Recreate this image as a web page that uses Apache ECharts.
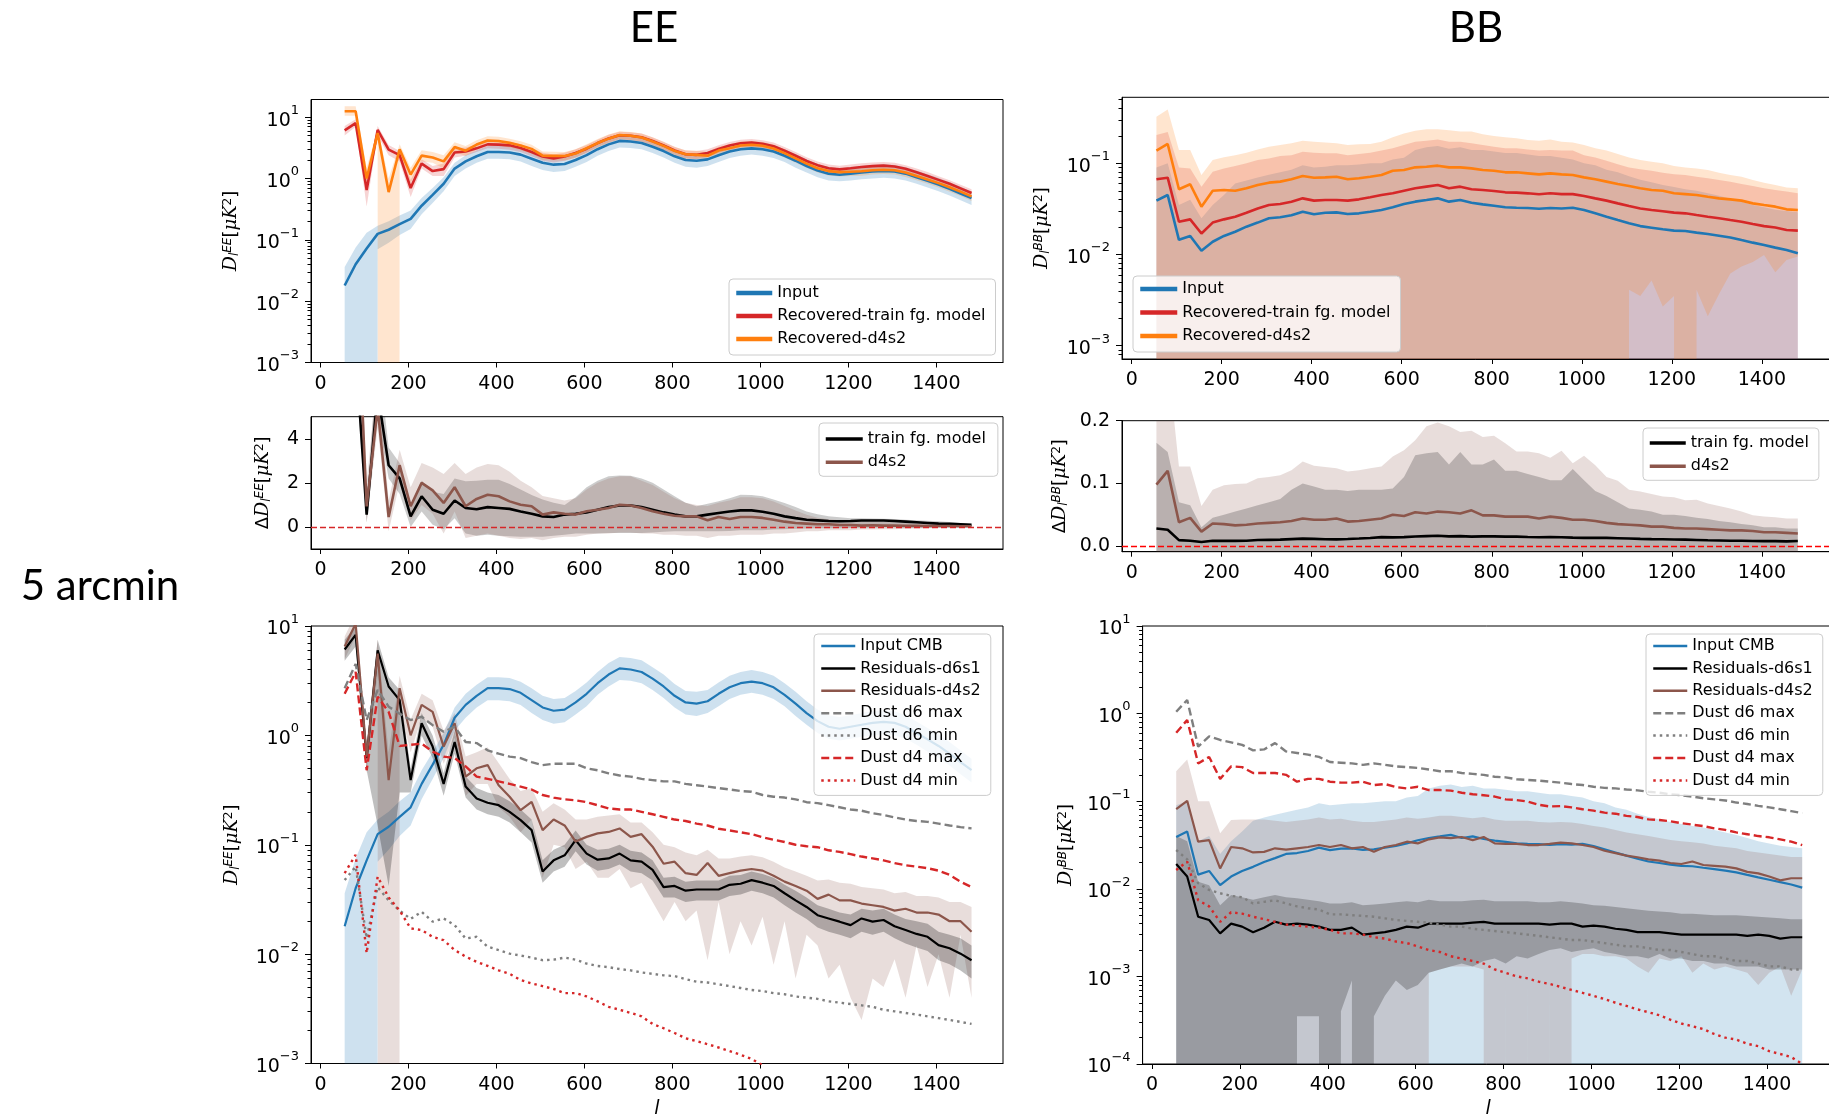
<!DOCTYPE html>
<html>
<head>
<meta charset="utf-8">
<title>EE / BB 5 arcmin</title>
<script src="https://cdn.jsdelivr.net/npm/echarts@6/dist/echarts.min.js"></script>
<style>
html, body { margin: 0; padding: 0; background: #fff; }
#chart { width: 1829px; height: 1120px; }
</style>
</head>
<body>
<div id="chart"></div>
<script>
/* multipole bins */
var ell = [55,80,105,130,155,180,205,230,255,280,305,330,355,380,405,430,455,480,505,530,555,580,605,630,655,680,705,730,755,780,805,830,855,880,905,930,955,980,1005,1030,1055,1080,1105,1130,1155,1180,1205,1230,1255,1280,1305,1330,1355,1380,1405,1430,1455,1480];
var xTicks = [0,200,400,600,800,1000,1200,1400];

/* EE spectra (top left, bottom left) */
var eeInput = [0.018,0.04,0.072,0.125,0.146,0.18,0.22,0.36,0.54,0.82, 1.45,1.9,2.3,2.7,2.7,2.65,2.45,2.1,1.8,1.68, 1.72,2.0,2.4,3.0,3.6,4.1,4.0,3.8,3.3,2.8, 2.3,2.0,1.95,2.05,2.4,2.75,3.0,3.1,3.0,2.75, 2.35,1.95,1.6,1.35,1.2,1.15,1.2,1.25,1.3,1.33, 1.3,1.2,1.05,0.92,0.8,0.68,0.57,0.48];
var eeInputLo = [null,null,null,0.07,0.09,0.12,0.15,0.26,0.4,0.62, 1.1,1.45,1.8,2.1,2.1,2.05,1.9,1.6,1.38,1.28, 1.32,1.55,1.85,2.35,2.8,3.2,3.15,3.0,2.6,2.2, 1.8,1.55,1.5,1.6,1.85,2.15,2.35,2.45,2.35,2.15, 1.85,1.5,1.25,1.05,0.93,0.9,0.93,0.97,1.0,1.03, 1.0,0.93,0.82,0.71,0.62,0.53,0.44,0.37];
var eeInputHi = [0.036,0.075,0.13,0.17,0.2,0.25,0.3,0.48,0.7,1.05, 1.8,2.4,2.9,3.4,3.4,3.35,3.1,2.7,2.3,2.15, 2.2,2.55,3.05,3.8,4.6,5.2,5.1,4.85,4.2,3.6, 2.95,2.55,2.5,2.6,3.05,3.5,3.8,3.95,3.8,3.5, 3.0,2.5,2.05,1.72,1.53,1.47,1.53,1.6,1.66,1.7, 1.66,1.53,1.34,1.17,1.02,0.87,0.73,0.61];
var eeTrain = [6.1,8.0,0.65,6.2,2.95,2.4,0.7,1.75,1.32,1.42, 2.65,2.76,3.1,3.6,3.56,3.47,3.15,2.7,2.28,2.13, 2.28,2.6,3.06,3.78,4.5,5.07,4.97,4.7,4.08,3.46, 2.86,2.48,2.43,2.61,3.03,3.45,3.75,3.85,3.69,3.35, 2.83,2.35,1.93,1.65,1.47,1.41,1.47,1.54,1.59,1.62, 1.57,1.44,1.26,1.1,0.95,0.82,0.69,0.58];
var eeTrainLo = [5.0,7.0,0.35,5.0,2.4,1.9,0.5,1.45,1.1,1.1, 2.2,2.35,2.7,3.1,3.05,2.95,2.7,2.3,1.95,1.82, 1.95,2.2,2.6,3.25,3.85,4.35,4.25,4.0,3.5,2.95, 2.45,2.12,2.08,2.23,2.6,2.95,3.2,3.3,3.15,2.87, 2.42,2.0,1.65,1.41,1.26,1.2,1.26,1.32,1.36,1.38, 1.34,1.23,1.08,0.94,0.81,0.7,0.59,0.5];
var eeTrainHi = [7.2,9.2,1.0,7.2,3.5,2.8,0.95,2.05,1.6,1.75, 3.1,3.2,3.55,4.1,4.05,3.95,3.6,3.1,2.62,2.45, 2.62,3.0,3.5,4.3,5.15,5.8,5.7,5.4,4.7,3.98, 3.3,2.85,2.8,3.0,3.48,3.95,4.3,4.4,4.22,3.85, 3.25,2.7,2.22,1.9,1.69,1.62,1.69,1.77,1.83,1.86, 1.8,1.65,1.45,1.27,1.09,0.94,0.79,0.67];
var eeD4s2 = [12.5,12.5,1.0,5.5,0.6,3.0,1.16,2.36,2.2,1.9, 3.25,2.84,3.57,4.16,4.09,3.81,3.46,3.04,2.36,2.34, 2.32,2.56,3.11,3.78,4.46,5.11,4.97,4.66,4.01,3.4, 2.81,2.48,2.43,2.35,2.85,3.11,3.45,3.55,3.41,3.08, 2.59,2.13,1.75,1.47,1.32,1.27,1.29,1.31,1.36,1.39, 1.36,1.25,1.1,0.96,0.84,0.72,0.61,0.51];
var eeD4s2Lo = [10.5,10.5,0.7,4.0,null,2.2,0.85,1.9,1.8,1.45, 2.65,2.35,2.95,3.5,3.45,3.2,2.9,2.55,2.0,1.98, 1.97,2.17,2.65,3.2,3.8,4.35,4.22,3.96,3.4,2.9, 2.39,2.1,2.07,2.0,2.42,2.65,2.93,3.02,2.9,2.62, 2.2,1.81,1.49,1.25,1.12,1.08,1.1,1.11,1.16,1.18, 1.16,1.06,0.94,0.82,0.71,0.61,0.52,0.43];
var eeD4s2Hi = [15,15,1.5,6.5,1.0,3.6,1.5,2.9,2.7,2.4, 3.9,3.4,4.2,4.9,4.8,4.45,4.05,3.55,2.75,2.72, 2.7,3.0,3.6,4.4,5.2,5.9,5.75,5.4,4.65,3.95, 3.26,2.88,2.82,2.72,3.3,3.6,4.0,4.1,3.95,3.57, 3.0,2.47,2.03,1.7,1.53,1.47,1.5,1.52,1.58,1.61, 1.58,1.45,1.28,1.11,0.97,0.83,0.71,0.59];

/* BB spectra (top right, bottom right) */
var bbInput = [0.039,0.045,0.0145,0.016,0.011,0.0138,0.016,0.0178,0.0202,0.0224, 0.025,0.0256,0.027,0.0295,0.0276,0.0287,0.029,0.0278,0.0283,0.0295, 0.0308,0.033,0.0358,0.038,0.0396,0.0413,0.038,0.0396,0.037,0.0355, 0.0343,0.033,0.0326,0.0324,0.0318,0.0324,0.032,0.0326,0.0308,0.0283, 0.026,0.0239,0.022,0.0205,0.0197,0.0189,0.0183,0.0181,0.0174,0.0168, 0.0161,0.0154,0.0144,0.0135,0.0127,0.0119,0.0112,0.0103];
var bbInputHi = [0.09,0.1,0.035,0.04,0.025,0.035,0.045,0.06,0.065,0.07, 0.075,0.08,0.085,0.095,0.09,0.092,0.095,0.095,0.097,0.1, 0.1,0.11,0.115,0.14,0.15,0.155,0.145,0.15,0.14,0.14, 0.135,0.13,0.13,0.125,0.12,0.12,0.115,0.11,0.1,0.095, 0.085,0.08,0.072,0.066,0.062,0.058,0.055,0.052,0.05,0.047, 0.044,0.041,0.038,0.035,0.033,0.031,0.03,0.029];
var bbTrain = [0.067,0.0696,0.0229,0.0243,0.017,0.0224,0.0243,0.026,0.0287,0.032, 0.0349,0.0358,0.038,0.0413,0.039,0.0396,0.0396,0.039,0.0403,0.0424, 0.045,0.0469,0.0501,0.0532,0.0555,0.0578,0.0532,0.0555,0.052,0.051, 0.0498,0.0481,0.0477,0.0469,0.0458,0.0469,0.046,0.046,0.0439,0.0413, 0.039,0.0364,0.034,0.032,0.0308,0.0298,0.0288,0.0283,0.0271,0.026, 0.025,0.0239,0.0229,0.0216,0.0205,0.0198,0.0186,0.0183];
var bbTrainHi = [0.204,0.22,0.09,0.088,0.0555,0.081,0.088,0.0935,0.1,0.109, 0.113,0.12,0.123,0.134,0.131,0.129,0.129,0.123,0.127,0.131, 0.138,0.146,0.159,0.173,0.177,0.183,0.173,0.173,0.166,0.159, 0.152,0.146,0.146,0.142,0.138,0.14,0.138,0.138,0.123,0.116, 0.107,0.098,0.09,0.086,0.083,0.079,0.076,0.0745,0.0714,0.0685, 0.0657,0.063,0.0593,0.0564,0.0532,0.051,0.049,0.0469];
var bbD4s2 = [0.138,0.163,0.052,0.059,0.0335,0.05,0.051,0.05,0.0532,0.0578, 0.0614,0.063,0.0668,0.0726,0.0696,0.0702,0.0714,0.0668,0.0685,0.0714, 0.0745,0.0831,0.0845,0.0904,0.0919,0.0943,0.0904,0.0904,0.088,0.0845, 0.0831,0.0797,0.0797,0.0777,0.0757,0.0777,0.0757,0.0745,0.0702,0.0668, 0.063,0.0593,0.0564,0.0532,0.051,0.05,0.0469,0.046,0.045,0.0431, 0.0413,0.0403,0.039,0.0364,0.0349,0.0335,0.0313,0.0308];
var bbD4s2Lo = [null,null,null,null,null,null,null,null,null,null, null,null,null,null,null,null,null,null,null,null, null,null,null,null,null,null,null,null,null,null, null,null,null,null,null,null,null,null,null,null, null,null,0.0041,0.0035,0.0052,0.0027,0.0035,null,0.0041,0.0021, 0.0037,0.0062,0.0074,0.0083,0.0099,0.0064,0.0087,0.0095];
var bbD4s2Hi = [0.325,0.39,0.14,0.14,0.0745,0.109,0.1163,0.123,0.131,0.142, 0.152,0.159,0.166,0.177,0.173,0.169,0.166,0.159,0.162,0.163, 0.173,0.193,0.213,0.228,0.236,0.236,0.231,0.223,0.223,0.208, 0.2,0.193,0.188,0.18,0.177,0.183,0.173,0.169,0.159,0.146, 0.138,0.127,0.116,0.109,0.104,0.1,0.0935,0.09,0.088,0.0845, 0.079,0.0745,0.0714,0.0657,0.0614,0.0578,0.0545,0.0532];

/* EE difference (middle left) */
var eeDTrain = [6.1,8.0,0.56,6.1,2.8,2.2,0.48,1.39,0.78,0.6, 1.2,0.86,0.8,0.9,0.86,0.82,0.7,0.6,0.48,0.45, 0.56,0.6,0.66,0.78,0.9,0.97,0.97,0.9,0.78,0.66, 0.56,0.48,0.48,0.56,0.63,0.7,0.75,0.75,0.69,0.6, 0.48,0.4,0.33,0.3,0.27,0.26,0.27,0.29,0.29,0.29, 0.27,0.24,0.21,0.18,0.15,0.14,0.12,0.1];
var eeDTrainLo = [5.5,7,0.2,5,2.2,1.5,0.0,0.7,0.1,-0.1, 0.4,-0.3,-0.4,-0.35,-0.4,-0.42,-0.45,-0.45,-0.45,-0.4, -0.35,-0.3,-0.3,-0.3,-0.28,-0.27,-0.27,-0.27,-0.25,-0.22, -0.2,-0.2,-0.2,-0.2,-0.2,-0.18,-0.15,-0.15,-0.15,-0.12, -0.1,-0.08,-0.07,-0.06,-0.06,-0.06,-0.05,-0.04,-0.04,-0.03, -0.03,-0.02,-0.02,-0.02,-0.01,-0.01,0,0];
var eeDTrainHi = [8,9,1.0,8,3.6,2.9,1.0,2.1,1.6,1.5, 2.2,2.07,2.1,2.14,2.14,1.95,1.7,1.45,1.24,1.1, 1.0,1.35,1.8,2.1,2.3,2.33,2.32,2.2,2.0,1.7, 1.39,1.1,0.94,1.05,1.16,1.3,1.46,1.45,1.39,1.25, 1.09,0.9,0.7,0.58,0.48,0.44,0.4,0.39,0.38,0.37, 0.36,0.33,0.3,0.28,0.26,0.22,0.18,0.15];
var eeDD4s2 = [12.4,12.4,0.93,5.4,0.45,2.8,0.94,2.0,1.66,1.09, 1.8,0.94,1.27,1.46,1.39,1.16,1.01,0.94,0.56,0.66, 0.6,0.56,0.71,0.78,0.86,1.01,0.97,0.86,0.71,0.6, 0.51,0.48,0.48,0.3,0.45,0.36,0.45,0.45,0.41,0.33, 0.24,0.18,0.15,0.12,0.12,0.09,0.09,0.06,0.08,0.06, 0.06,0.05,0.05,0.04,0.04,0.04,0.03,0.03];
var eeDD4s2Lo = [11,11,0.2,4.5,-0.2,2.0,0.3,1.0,0.6,-0.3, 0.7,-0.5,-0.4,-0.3,-0.4,-0.5,-0.55,-0.5,-0.6,-0.5, -0.45,-0.45,-0.35,-0.3,-0.3,-0.25,-0.25,-0.3,-0.3,-0.35, -0.35,-0.4,-0.4,-0.5,-0.4,-0.4,-0.35,-0.35,-0.35,-0.3, -0.3,-0.25,-0.2,-0.2,-0.15,-0.15,-0.15,-0.12,-0.12,-0.1, -0.1,-0.08,-0.07,-0.06,-0.05,-0.04,-0.03,-0.03];
var eeDD4s2Hi = [14,14,2.0,7,1.2,3.5,1.8,2.9,2.7,2.4, 2.9,2.4,2.7,2.85,2.8,2.5,2.1,1.8,1.4,1.3, 1.2,1.3,1.7,2.0,2.2,2.3,2.3,2.1,1.9,1.6, 1.3,1.1,1.0,0.95,1.1,1.2,1.35,1.35,1.3,1.15, 0.95,0.75,0.55,0.42,0.35,0.3,0.28,0.25,0.24,0.23, 0.22,0.2,0.18,0.16,0.14,0.12,0.1,0.09];

/* BB difference (middle right) */
var bbDTrain = [0.028,0.026,0.0095,0.0085,0.0064,0.0085,0.0083,0.0082,0.0085,0.0096, 0.0099,0.0102,0.011,0.0118,0.0114,0.0109,0.0106,0.0112,0.012,0.0129, 0.0142,0.0139,0.0143,0.0152,0.0159,0.0165,0.0155,0.0159,0.015,0.0155, 0.0155,0.0151,0.0151,0.0145,0.014,0.0145,0.014,0.0134,0.0131,0.013, 0.013,0.0125,0.012,0.0115,0.0111,0.0109,0.0105,0.0102,0.0097,0.0092, 0.0089,0.0085,0.0085,0.0081,0.0078,0.0079,0.0074,0.008];
var bbDTrainHi = [0.165,0.15,0.07,0.065,0.03,0.045,0.05,0.055,0.06,0.065, 0.07,0.075,0.09,0.1,0.095,0.09,0.09,0.088,0.09,0.09, 0.09,0.092,0.11,0.145,0.148,0.15,0.13,0.15,0.13,0.13, 0.138,0.12,0.12,0.115,0.11,0.105,0.105,0.123,0.105,0.088, 0.08,0.07,0.06,0.058,0.055,0.05,0.05,0.048,0.045,0.043, 0.04,0.038,0.035,0.033,0.03,0.03,0.028,0.028];
var bbDD4s2 = [0.098,0.12,0.038,0.045,0.023,0.036,0.035,0.033,0.034,0.036, 0.037,0.038,0.04,0.044,0.042,0.042,0.044,0.039,0.04,0.042, 0.044,0.05,0.048,0.054,0.052,0.055,0.054,0.052,0.057,0.049, 0.049,0.047,0.047,0.047,0.044,0.047,0.045,0.042,0.042,0.04, 0.037,0.035,0.034,0.033,0.031,0.031,0.029,0.028,0.028,0.027, 0.026,0.025,0.025,0.024,0.022,0.022,0.021,0.02];
var bbDD4s2Hi = [0.3,0.3,0.127,0.127,0.064,0.09,0.097,0.099,0.1,0.108, 0.11,0.113,0.121,0.135,0.128,0.126,0.124,0.119,0.121,0.124, 0.127,0.143,0.153,0.169,0.191,0.197,0.191,0.182,0.184,0.174, 0.176,0.164,0.151,0.151,0.148,0.141,0.152,0.132,0.144,0.129, 0.11,0.104,0.09,0.087,0.083,0.079,0.078,0.073,0.074,0.068, 0.064,0.06,0.055,0.049,0.047,0.046,0.044,0.044];

/* EE residuals and dust (bottom left) */
var eeResD6s1 = [6.1,8.3,0.62,6.0,2.8,2.1,0.39,1.29,0.79,0.36, 0.87,0.34,0.265,0.242,0.23,0.2,0.168,0.136,0.057,0.072, 0.08,0.11,0.083,0.073,0.075,0.083,0.072,0.07,0.059,0.041, 0.042,0.038,0.039,0.039,0.039,0.043,0.044,0.0475,0.045,0.042, 0.036,0.031,0.027,0.0227,0.0212,0.0198,0.0184,0.0212,0.0198,0.0205, 0.018,0.0166,0.0153,0.0144,0.0121,0.0113,0.0101,0.0088];
var eeResD6s1Lo = [4.8,6.5,0.48,0.15,0.042,0.3,0.3,1.0,0.62,0.28, 0.68,0.27,0.21,0.19,0.18,0.16,0.13,0.105,0.045,0.057, 0.063,0.087,0.066,0.058,0.06,0.066,0.057,0.055,0.047,0.033, 0.033,0.03,0.031,0.031,0.031,0.034,0.035,0.038,0.036,0.033, 0.028,0.024,0.021,0.0175,0.016,0.015,0.014,0.016,0.015,0.016, 0.014,0.0125,0.0115,0.0107,0.0088,0.0081,0.0071,0.006];
var eeResD6s1Hi = [7.5,10,0.8,7.5,3.4,2.6,0.5,1.6,1.0,0.45, 1.1,0.42,0.33,0.3,0.285,0.25,0.21,0.17,0.072,0.09, 0.1,0.135,0.1,0.09,0.092,0.1,0.088,0.085,0.072,0.05, 0.051,0.046,0.047,0.047,0.047,0.052,0.053,0.057,0.054,0.05, 0.043,0.038,0.033,0.028,0.026,0.024,0.023,0.026,0.025,0.026, 0.023,0.021,0.02,0.019,0.016,0.015,0.014,0.012];
var eeResD4s2 = [6.5,10.5,0.64,5.6,0.39,2.7,1.0,1.9,1.64,0.79, 1.29,0.42,0.5,0.535,0.35,0.275,0.207,0.247,0.136,0.17, 0.15,0.107,0.118,0.127,0.131,0.141,0.118,0.125,0.096,0.067, 0.07,0.055,0.053,0.068,0.052,0.055,0.058,0.06,0.058,0.052, 0.046,0.042,0.038,0.032,0.035,0.031,0.031,0.029,0.028,0.027, 0.025,0.026,0.024,0.024,0.023,0.02,0.02,0.016];
var eeResD4s2Lo = [5,8,0.45,3.5,null,1.8,0.7,1.45,1.2,0.55, 0.95,0.28,0.36,0.36,0.22,0.18,0.13,0.17,0.05,0.1, 0.095,0.06,0.07,0.05,0.05,0.06,0.04,0.045,0.03,0.02, 0.03,0.02,0.025,0.0088,0.03,0.01,0.02,0.012,0.022,0.008, 0.02,0.006,0.015,0.012,0.006,0.008,0.004,0.0025,0.006,0.005, 0.009,0.004,0.012,0.005,0.01,0.004,0.015,0.004];
var eeResD4s2Hi = [8,13,0.9,7.5,0.7,3.5,1.4,2.4,2.1,1.1, 1.6,0.64,0.7,0.78,0.56,0.4,0.31,0.33,0.2,0.24, 0.21,0.17,0.17,0.18,0.185,0.19,0.16,0.16,0.13,0.1, 0.095,0.085,0.08,0.09,0.075,0.075,0.078,0.08,0.077,0.07, 0.062,0.057,0.052,0.047,0.048,0.045,0.044,0.041,0.04,0.039, 0.036,0.037,0.034,0.034,0.033,0.03,0.03,0.027];
var eeDustD6Max = [2.7,4.5,1.38,2.6,1.83,1.58,1.38,1.48,1.24,1.08, 1.2,0.87,0.85,0.73,0.68,0.64,0.62,0.57,0.535,0.55, 0.55,0.55,0.5,0.48,0.45,0.43,0.42,0.4,0.39,0.38, 0.38,0.36,0.35,0.34,0.33,0.32,0.31,0.305,0.285,0.275, 0.27,0.26,0.245,0.24,0.23,0.22,0.21,0.205,0.194,0.187, 0.178,0.17,0.165,0.162,0.156,0.15,0.145,0.141];
var eeDustD6Min = [0.0475,0.063,0.014,0.041,0.031,0.025,0.021,0.0244,0.0198,0.0212, 0.0184,0.0139,0.0144,0.0117,0.0109,0.0101,0.0097,0.0093,0.0088,0.0089, 0.0093,0.0089,0.0082,0.0078,0.0076,0.0073,0.0071,0.0068,0.0066,0.0064, 0.0063,0.0059,0.0056,0.0055,0.0053,0.0051,0.0049,0.0047,0.0046,0.0044, 0.0043,0.0041,0.004,0.0039,0.0037,0.0036,0.0035,0.0034,0.0033,0.0031, 0.003,0.0029,0.0028,0.0027,0.0026,0.0025,0.0024,0.0023];
var eeDustD4Max = [2.4,3.8,0.48,2.26,1.64,0.8,0.82,0.84,0.71,0.64, 0.62,0.52,0.42,0.4,0.38,0.36,0.34,0.32,0.285,0.27, 0.26,0.255,0.245,0.23,0.215,0.21,0.21,0.2,0.19,0.18, 0.17,0.165,0.156,0.15,0.14,0.135,0.13,0.125,0.117,0.111, 0.106,0.1,0.097,0.095,0.089,0.086,0.082,0.078,0.075,0.072, 0.068,0.065,0.063,0.061,0.058,0.053,0.046,0.041];
var eeDustD4Min = [0.055,0.081,0.0102,0.051,0.033,0.025,0.0172,0.0166,0.0144,0.0134, 0.0109,0.0095,0.0085,0.0078,0.0071,0.0066,0.0058,0.0054,0.0051,0.0048, 0.0044,0.0044,0.0041,0.0037,0.0033,0.0031,0.0029,0.0027,0.0023,0.0021, 0.0019,0.0017,0.0016,0.0015,0.0014,0.0013,0.0012,0.0011,0.00096,0.00087, null,null,null,null,null,null,null,null,null,null, null,null,null,null,null,null,null,null];

/* BB residuals and dust (bottom right) */
var bbResD6s1 = [0.0192,0.0138,0.0048,0.0044,0.0031,0.004,0.0037,0.0032,0.0036,0.0042, 0.0039,0.004,0.0039,0.0037,0.0034,0.0034,0.0036,0.003,0.0031,0.0032, 0.0034,0.0037,0.0036,0.004,0.004,0.004,0.004,0.0041,0.0042,0.004, 0.004,0.004,0.004,0.004,0.0039,0.004,0.004,0.0037,0.0038,0.0037, 0.0035,0.0034,0.0032,0.0032,0.0032,0.0031,0.003,0.003,0.003,0.003, 0.003,0.003,0.0029,0.003,0.0029,0.0027,0.0028,0.0028];
var bbResD6s1Lo = [null,null,null,null,null,null,null,null,null,null, null,0.00035,0.00035,0.00035,null,0.0004,0.0009,null,0.00035,0.0006, 0.0009,0.0007,0.0008,0.0011,0.0012,0.0013,0.0014,0.0013,0.0015,0.0016, 0.0014,0.0017,0.0016,0.0018,0.002,0.0021,0.0019,0.002,0.0021,0.0019, 0.0018,0.0017,0.0017,0.0016,0.0018,0.0016,0.0016,0.0015,0.0015,0.0014, 0.0014,0.0013,0.0013,0.0013,0.0012,0.0012,0.0012,0.0012];
var bbResD6s1Hi = [0.04,0.035,0.012,0.011,0.0065,0.0085,0.008,0.0075,0.008,0.0085, 0.008,0.0078,0.0075,0.0072,0.0068,0.0068,0.007,0.0065,0.0066,0.0068, 0.007,0.0072,0.007,0.0075,0.0072,0.0072,0.0072,0.0074,0.0075,0.0072, 0.0072,0.0072,0.0072,0.007,0.007,0.0072,0.007,0.0068,0.0065,0.0064, 0.0062,0.006,0.0058,0.0056,0.0055,0.0054,0.0052,0.0052,0.0051,0.005, 0.005,0.005,0.0049,0.0048,0.0047,0.0046,0.0045,0.0045];
var bbResD4s2 = [0.081,0.101,0.0345,0.036,0.0171,0.03,0.029,0.026,0.0264,0.029, 0.028,0.029,0.03,0.0316,0.03,0.0316,0.029,0.03,0.0265,0.03, 0.0316,0.0345,0.033,0.0367,0.0387,0.0378,0.039,0.036,0.039,0.033, 0.0326,0.0326,0.0316,0.0316,0.0326,0.0337,0.033,0.0316,0.03,0.0272, 0.0255,0.0239,0.0229,0.0217,0.021,0.0197,0.0192,0.0205,0.0187,0.0183, 0.0179,0.0171,0.0156,0.015,0.0138,0.0125,0.0132,0.0132];
var bbResD4s2Lo = [null,null,null,null,null,null,null,null,null,null, null,null,null,null,null,null,null,null,null,null, null,null,null,0.0011,0.0012,0.0013,0.0013,0.0013,0.0012,null, 0.0013,null,0.0014,null,0.0015,null,0.0016,0.0018,0.0018,0.0017, 0.0017,0.0016,0.0013,0.0011,0.0016,0.0015,0.0017,0.0011,0.0014,0.0012, 0.0013,0.0012,0.0011,0.0008,0.0011,0.0013,0.0006,0.0012];
var bbResD4s2Hi = [0.22,0.3,0.1,0.1,0.043,0.061,0.062,0.062,0.062,0.06, 0.058,0.06,0.062,0.065,0.062,0.063,0.06,0.058,0.058,0.06, 0.062,0.065,0.063,0.065,0.068,0.068,0.066,0.064,0.066,0.062, 0.06,0.06,0.06,0.058,0.057,0.058,0.057,0.055,0.052,0.05, 0.047,0.044,0.042,0.04,0.038,0.036,0.035,0.034,0.033,0.031, 0.03,0.029,0.027,0.026,0.025,0.024,0.023,0.023];
var bbDustD6Max = [1.05,1.43,0.42,0.55,0.5,0.47,0.44,0.38,0.39,0.46, 0.37,0.355,0.34,0.32,0.28,0.275,0.27,0.26,0.27,0.26, 0.25,0.245,0.24,0.23,0.22,0.22,0.21,0.205,0.2,0.19, 0.187,0.178,0.175,0.172,0.167,0.163,0.157,0.153,0.146,0.142, 0.14,0.136,0.133,0.128,0.125,0.12,0.117,0.113,0.108,0.105, 0.102,0.0965,0.093,0.0885,0.085,0.081,0.077,0.073];
var bbDustD6Min = [0.0277,0.0217,0.0116,0.0097,0.0089,0.0083,0.008,0.0068,0.0071,0.0074, 0.0068,0.0063,0.006,0.0058,0.0051,0.0051,0.005,0.0049,0.0048,0.0046, 0.0044,0.0043,0.0042,0.0041,0.0039,0.0037,0.0037,0.0035,0.0034,0.0033, 0.0032,0.0031,0.003,0.0029,0.0028,0.0027,0.0026,0.0026,0.0025,0.0024, 0.0023,0.0022,0.0022,0.0021,0.002,0.002,0.0019,0.0018,0.0017,0.0017, 0.0016,0.0015,0.0015,0.0014,0.0013,0.0013,0.0012,0.0012];
var bbDustD4Max = [0.605,0.845,0.27,0.32,0.18,0.25,0.245,0.21,0.21,0.21, 0.2,0.167,0.18,0.18,0.167,0.163,0.163,0.167,0.153,0.157, 0.145,0.14,0.146,0.134,0.134,0.132,0.125,0.12,0.117,0.113, 0.105,0.103,0.099,0.091,0.087,0.088,0.085,0.081,0.078,0.074, 0.072,0.068,0.066,0.062,0.061,0.059,0.056,0.054,0.052,0.049, 0.047,0.044,0.042,0.04,0.0387,0.0367,0.0345,0.0316];
var bbDustD4Min = [0.0164,0.0204,0.0074,0.0063,0.0042,0.0054,0.0052,0.0048,0.0045,0.0042, 0.0039,0.0038,0.0037,0.0036,0.0034,0.0031,0.0031,0.003,0.0028,0.0027, 0.0025,0.0024,0.0022,0.002,0.0019,0.0017,0.0016,0.0015,0.0014,0.0012, 0.0011,0.001,0.00095,0.00087,0.00082,0.00076,0.0007,0.00065,0.0006,0.00055, 0.0005,0.00046,0.00042,0.00039,0.00036,0.00032,0.00029,0.00027,0.00025,0.00022, 0.0002,0.00019,0.00017,0.00016,0.00014,0.00013,0.00012,0.0001];

/* colours */
var BLUE = '#1f77b4', RED = '#d62728', ORANGE = '#ff7f0e', BROWN = '#8c564b', GRAY = '#7f7f7f', BLACK = '#000000';
var FONT = 'DejaVu Sans';

/* panel frames: A EE, B BB, C dEE, D dBB, E EE res, F BB res */
var grids = [
    {left: 311, top: 99.5, width: 692, height: 263},
    {left: 1122, top: 97.3, width: 708, height: 261.7},
    {left: 311, top: 416.7, width: 692, height: 132.3},
    {left: 1122, top: 420.7, width: 708, height: 131},
    {left: 311, top: 626, width: 692, height: 437.5},
    {left: 1142.6, top: 626, width: 691, height: 438}
];
var isLog = [true, true, false, false, true, true];
var yRange = [[0.001, 19.4], [7.15e-4, 0.53], [-1, 5], [-0.009, 0.2], [0.001, 10], [0.0001, 10]];
var minorOf = [0, 1, 4, 5];   // log panels that get minor ticks

function pairs(vals) {
    return ell.map(function (x, i) { return [x, vals[i]]; });
}

// clip polygon to the plot rect
function clipPoly(pts, x0, y0, x1, y1) {
    var planes = [[0, x0, 1], [0, x1, -1], [1, y0, 1], [1, y1, -1]];
    planes.forEach(function (pl) {
        var k = pl[0], v = pl[1], s = pl[2], out = [];
        for (var i = 0; i < pts.length; i++) {
            var a = pts[i], b = pts[(i + 1) % pts.length];
            var ina = (a[k] - v) * s >= 0, inb = (b[k] - v) * s >= 0;
            if (ina) out.push(a);
            if (ina !== inb) {
                var t = (v - a[k]) / (b[k] - a[k]);
                out.push([a[0] + t * (b[0] - a[0]), a[1] + t * (b[1] - a[1])]);
            }
        }
        pts = out;
    });
    return pts;
}

// shaded band between lo and hi (null lo = negative, i.e. off the bottom)
function band(g, lo, hi, color, alpha) {
    var floor = isLog[g] ? 1e-300 : -10;
    return {
        type: 'custom', xAxisIndex: g, yAxisIndex: g, silent: true, z: 1,
        data: [[ell[0], hi[0]]],
        renderItem: function (params, api) {
            var up = [], dn = [];
            for (var i = 0; i < ell.length; i++) {
                var l = lo ? lo[i] : null;
                if (l == null) l = floor;
                up.push(api.coord([ell[i], hi[i]]));
                dn.push(api.coord([ell[i], l]));
            }
            var cs = params.coordSys;
            var pts = clipPoly(up.concat(dn.reverse()), cs.x, cs.y, cs.x + cs.width, cs.y + cs.height);
            if (pts.length < 3) return null;
            return {type: 'polygon', shape: {points: pts}, style: {fill: color, opacity: alpha}};
        }
    };
}

function line(g, name, vals, color, width, dash) {
    return {
        type: 'line', name: name, xAxisIndex: g, yAxisIndex: g, z: 3,
        data: pairs(vals), symbol: 'none', showSymbol: false,
        lineStyle: {color: color, width: width, type: dash || 'solid'},
        itemStyle: {color: color}
    };
}

function zeroLine(s, color) {
    s.markLine = {
        silent: true, symbol: 'none', label: {show: false},
        lineStyle: {color: color, width: 1.3, type: [6, 3]},
        data: [{yAxis: 0}]
    };
    return s;
}

function powLabel(v) {
    var e = Math.round(Math.log(v) / Math.LN10);
    return '{b|10}{e|' + (e < 0 ? '\u2212' + (-e) : e) + '}';
}

function minorTicks(min, max) {
    var out = [];
    for (var d = Math.floor(Math.log10(min)); d <= Math.ceil(Math.log10(max)); d++) {
        for (var k = 2; k <= 9; k++) {
            var v = k * Math.pow(10, d);
            if (v > min && v < max) out.push(v);
        }
    }
    return out;
}

var nameRich = {
    d: {fontFamily: 'DejaVu Serif', fontStyle: 'italic', fontSize: 19},
    s: {fontFamily: FONT, fontStyle: 'italic', fontSize: 12, verticalAlign: 'bottom'},
    p: {fontFamily: FONT, fontStyle: 'italic', fontSize: 12, verticalAlign: 'top'},
    q: {fontFamily: FONT, fontSize: 12, verticalAlign: 'top'},
    i: {fontFamily: 'DejaVu Serif', fontStyle: 'italic', fontSize: 18},
    n: {fontFamily: FONT, fontSize: 18}
};
function yName(pol, delta) {
    return (delta ? '{n|\u0394}' : '') + '{d|D}{s|l}{p|' + pol + '}{n|[}{i|\u03bcK}{q|2}{n|]}';
}

function yAxisCfg(g, ticks, fmt, name, gap) {
    var ax = {
        gridIndex: g, type: isLog[g] ? 'log' : 'value', min: yRange[g][0], max: yRange[g][1], position: 'left',
        axisLine: {show: true, onZero: false, lineStyle: {color: BLACK, width: 1}},
        axisTick: {show: true, length: 6, customValues: ticks, lineStyle: {color: BLACK}},
        axisLabel: {
            customValues: ticks, formatter: fmt, margin: 12, color: BLACK,
            fontFamily: FONT, fontSize: 19,
            rich: {b: {fontFamily: FONT, fontSize: 19, padding: [7, 0, 0, 0]}, e: {fontFamily: FONT, fontSize: 13, verticalAlign: 'top'}}
        },
        splitLine: {show: false},
        name: name, nameLocation: 'middle', nameGap: gap, nameRotate: 90,
        nameTextStyle: {color: BLACK, rich: nameRich}
    };
    if (isLog[g]) ax.logBase = 10;
    return ax;
}

function xAxisCfg(g, withName) {
    var ax = {
        gridIndex: g, type: 'value', min: -21.5, max: 1551.5,
        axisLine: {show: true, onZero: false, lineStyle: {color: BLACK, width: 1}},
        axisTick: {show: true, length: 5, customValues: xTicks, lineStyle: {color: BLACK}},
        axisLabel: {customValues: xTicks, formatter: function (v) { return String(v); }, margin: 12, color: BLACK, fontFamily: FONT, fontSize: 19},
        splitLine: {show: false}
    };
    if (withName) {
        ax.name = 'l';
        ax.nameLocation = 'middle';
        ax.nameGap = 36;
        ax.nameTextStyle = {color: BLACK, fontFamily: FONT, fontStyle: 'italic', fontSize: 19};
    }
    return ax;
}

function legendBox(left, top, names, iw, gap, lw, pad) {
    return {
        orient: 'vertical', left: left, top: top, data: names,
        itemWidth: iw, itemHeight: 14, itemGap: gap, padding: pad,
        backgroundColor: 'rgba(255,255,255,0.8)', borderColor: '#cccccc', borderWidth: 1, borderRadius: 4,
        textStyle: {fontFamily: FONT, fontSize: 16, color: BLACK},
        itemStyle: {opacity: 0}, lineStyle: {width: lw}, selectedMode: false
    };
}

var topNames = ['Input', 'Recovered-train fg. model', 'Recovered-d4s2'];
var midNames = ['train fg. model', 'd4s2'];
var botNames = ['Input CMB', 'Residuals-d6s1', 'Residuals-d4s2', 'Dust d6 max', 'Dust d6 min', 'Dust d4 max', 'Dust d4 min'];
var DASH = [8, 4], DOT = [2.5, 4];

var eeMajor = [0.001, 0.01, 0.1, 1, 10];
var bbMajor = [0.001, 0.01, 0.1];
var resMajor = [0.0001, 0.001, 0.01, 0.1, 1, 10];

var series = [
    // A
    band(0, eeInputLo, eeInputHi, BLUE, 0.22),
    band(0, eeTrainLo, eeTrainHi, RED, 0.2),
    band(0, eeD4s2Lo, eeD4s2Hi, ORANGE, 0.2),
    line(0, 'Input', eeInput, BLUE, 2.6),
    line(0, 'Recovered-train fg. model', eeTrain, RED, 2.6),
    line(0, 'Recovered-d4s2', eeD4s2, ORANGE, 2.6),
    // B
    band(1, null, bbInputHi, BLUE, 0.2),
    band(1, null, bbTrainHi, RED, 0.2),
    band(1, bbD4s2Lo, bbD4s2Hi, ORANGE, 0.2),
    line(1, 'Input', bbInput, BLUE, 2.6),
    line(1, 'Recovered-train fg. model', bbTrain, RED, 2.6),
    line(1, 'Recovered-d4s2', bbD4s2, ORANGE, 2.6),
    // C
    band(2, eeDTrainLo, eeDTrainHi, BLACK, 0.2),
    band(2, eeDD4s2Lo, eeDD4s2Hi, BROWN, 0.2),
    zeroLine(line(2, 'train fg. model', eeDTrain, BLACK, 2.6), RED),
    line(2, 'd4s2', eeDD4s2, BROWN, 2.6),
    // D
    band(3, null, bbDD4s2Hi, BROWN, 0.2),
    band(3, null, bbDTrainHi, BLACK, 0.2),
    zeroLine(line(3, 'train fg. model', bbDTrain, BLACK, 2.6), '#ff0000'),
    line(3, 'd4s2', bbDD4s2, BROWN, 2.6),
    // E
    band(4, eeInputLo, eeInputHi, BLUE, 0.22),
    band(4, eeResD4s2Lo, eeResD4s2Hi, BROWN, 0.2),
    band(4, eeResD6s1Lo, eeResD6s1Hi, BLACK, 0.25),
    line(4, 'Input CMB', eeInput, BLUE, 2.2),
    line(4, 'Residuals-d6s1', eeResD6s1, BLACK, 2.2),
    line(4, 'Residuals-d4s2', eeResD4s2, BROWN, 2.2),
    line(4, 'Dust d6 max', eeDustD6Max, GRAY, 2.4, DASH),
    line(4, 'Dust d6 min', eeDustD6Min, GRAY, 2.4, DOT),
    line(4, 'Dust d4 max', eeDustD4Max, RED, 2.4, DASH),
    line(4, 'Dust d4 min', eeDustD4Min, RED, 2.4, DOT),
    // F
    band(5, null, bbInputHi, BLUE, 0.2),
    band(5, bbResD4s2Lo, bbResD4s2Hi, BROWN, 0.2),
    band(5, bbResD6s1Lo, bbResD6s1Hi, BLACK, 0.22),
    line(5, 'Input CMB', bbInput, BLUE, 2.2),
    line(5, 'Residuals-d6s1', bbResD6s1, BLACK, 2.2),
    line(5, 'Residuals-d4s2', bbResD4s2, BROWN, 2.2),
    line(5, 'Dust d6 max', bbDustD6Max, GRAY, 2.4, DASH),
    line(5, 'Dust d6 min', bbDustD6Min, GRAY, 2.4, DOT),
    line(5, 'Dust d4 max', bbDustD4Max, RED, 2.4, DASH),
    line(5, 'Dust d4 min', bbDustD4Min, RED, 2.4, DOT)
];

var gridList = grids.map(function (g) {
    return {left: g.left, top: g.top, width: g.width, height: g.height, show: true,
        borderColor: BLACK, borderWidth: 1, backgroundColor: 'transparent', outerBoundsMode: 'none'};
});
var xAxes = [xAxisCfg(0), xAxisCfg(1), xAxisCfg(2), xAxisCfg(3), xAxisCfg(4, true), xAxisCfg(5, true)];
var yAxes = [
    yAxisCfg(0, eeMajor, powLabel, yName('EE'), 70),
    yAxisCfg(1, bbMajor, powLabel, yName('BB'), 70),
    yAxisCfg(2, [0, 2, 4], function (v) { return String(v); }, yName('EE', true), 38),
    yAxisCfg(3, [0, 0.1, 0.2], function (v) { return v.toFixed(1); }, yName('BB', true), 52),
    yAxisCfg(4, eeMajor, powLabel, yName('EE'), 69),
    yAxisCfg(5, resMajor, powLabel, yName('BB'), 67)
];

// minor log ticks live on overlay grids with the same frame
minorOf.forEach(function (g) {
    var gi = gridList.length, r = yRange[g];
    gridList.push({left: grids[g].left, top: grids[g].top, width: grids[g].width, height: grids[g].height,
        show: false, outerBoundsMode: 'none'});
    xAxes.push({gridIndex: gi, type: 'value', min: -21.5, max: 1551.5, show: false});
    yAxes.push({
        gridIndex: gi, type: 'log', logBase: 10, min: r[0], max: r[1], position: 'left',
        axisLine: {show: false, onZero: false}, axisLabel: {show: false}, splitLine: {show: false},
        axisTick: {show: true, length: 3.5, customValues: minorTicks(r[0], r[1]), lineStyle: {color: BLACK}}
    });
});

var option = {
    animation: false,
    backgroundColor: '#ffffff',
    grid: gridList,
    xAxis: xAxes,
    yAxis: yAxes,
    legend: [
        legendBox(729, 279, topNames, 36, 7, 4.5, [6, 10, 8, 5]),
        legendBox(1133, 276, topNames, 37, 7.5, 4.5, [5, 10, 8, 5]),
        legendBox(819, 423, midNames, 37, 7.3, 3.5, [8, 12, 6, 5]),
        legendBox(1643, 428, midNames, 36, 7.3, 3.5, [7, 10, 6, 5]),
        legendBox(814, 634, botNames, 34, 6.4, 2.5, [4, 10, 7, 6]),
        legendBox(1646, 634, botNames, 34, 6.4, 2.5, [4, 10, 7, 6])
    ],
    graphic: [
        {type: 'text', x: 654, y: 28, style: {text: 'EE', font: '42px Lato', fill: BLACK, textAlign: 'center', textVerticalAlign: 'middle'}},
        {type: 'text', x: 1476, y: 28, style: {text: 'BB', font: '42px Lato', fill: BLACK, textAlign: 'center', textVerticalAlign: 'middle'}},
        {type: 'text', x: 100, y: 586, style: {text: '5 arcmin', font: '42px Lato', fill: BLACK, textAlign: 'center', textVerticalAlign: 'middle'}}
    ],
    series: series
};

var myChart = echarts.init(document.getElementById('chart'), null, {renderer: 'canvas'});
myChart.setOption(option);
</script>
</body>
</html>
